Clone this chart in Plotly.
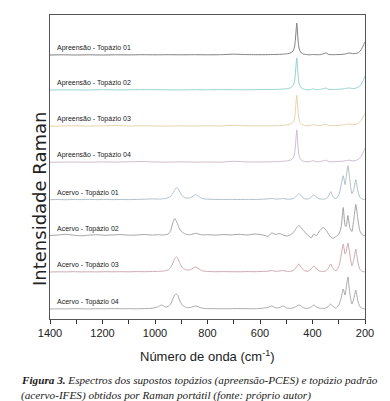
import plotly.graph_objects as go

# ---------------- data ----------------
# Raman shift grid (cm-1) used for the seized samples ("Apreensão")
WN_APREENSAO = [1400, 1350, 1300, 1250, 1200, 1150, 1100, 1050, 1000, 950,
                900, 850, 800, 750, 700, 650, 600, 560, 530, 510,
                495, 485, 478, 472, 468, 465, 462, 460, 458, 455,
                452, 448, 442, 435, 425, 410, 398, 385, 370, 355,
                348, 340, 325, 310, 295, 280, 268, 258, 248, 235,
                225, 218, 212, 207, 203, 200]

APREENSAO_01 = [0, 0.2, 0, 0.2, 0, 0.2, 0.1, 0.3, 0.2, 0.3,
                0.2, 0.3, 0.2, 0.3, 0.8, 0.4, 0.3, 0.4, 0.6, 0.9,
                1.3, 2.0, 3.0, 5.0, 9, 16, 26, 32, 27, 15,
                8, 4, 2, 1.0, 0.5, 0.2, 0.5, 0.3, 0.4, 1.5,
                2.2, 0.6, 0.3, 0.4, 0.5, 0.8, 1.6, 2.0, 1.4, 1.5,
                2.5, 4, 6.5, 9, 11.5, 13]
APREENSAO_02 = [0, 0.2, 0.1, 0, 0.3, 0.1, 0.2, 0.4, 0.3, 0.2,
                0.1, 0.3, 0.2, 0.4, 0.3, 0.2, 0.4, 0.5, 0.7, 1.0,
                1.4, 2.1, 3.2, 5.2, 9.5, 17, 27, 32, 27, 15,
                8, 4, 2, 1.0, 0.4, 0.3, 1.2, 0.4, 0.6, 1.6,
                2.0, 0.8, 0.5, 0.6, 0.8, 1.2, 1.8, 2.0, 1.5, 1.8,
                3, 4.5, 7, 9.5, 12, 14]
APREENSAO_03 = [0, 0.3, 0.5, 0.2, 0.4, 0.8, 0.3, 0.5, 0.3, 0.2,
                0.4, 0.3, 0.5, 0.3, 1.0, 0.5, 0.4, 0.5, 0.7, 1.0,
                1.5, 2.2, 3.2, 5, 9, 16, 26, 31, 26, 15,
                8, 4, 2.2, 1.2, 0.6, 0.8, 1.8, 0.7, 0.9, 1.8,
                2.2, 0.9, 0.6, 0.8, 1.0, 1.4, 2.0, 2.2, 1.6, 2,
                3.2, 4.8, 7, 9.5, 11.5, 13]
APREENSAO_04 = [0, 0.2, 0.3, 0.1, 0.4, 0.2, 0.5, 0.8, 0.3, 0.2,
                0.4, 0.2, 0.3, 0.2, 1.0, 0.4, 0.3, 0.5, 0.7, 1.1,
                1.5, 2.2, 3.3, 5.2, 9.5, 17, 27, 32.5, 27, 15,
                8, 4, 2, 1.1, 0.6, 0.6, 1.6, 0.6, 0.8, 1.7,
                2.1, 0.8, 0.5, 0.7, 0.9, 1.3, 1.9, 2.1, 1.5, 1.8,
                3.2, 4.8, 7.2, 9.8, 12, 14]

# Raman shift grid (cm-1) used for the reference topaz samples ("Acervo")
WN_ACERVO = [1400, 1370, 1340, 1310, 1280, 1250, 1220, 1190, 1160, 1130,
             1100, 1070, 1040, 1010, 990, 975, 960, 950, 940, 932,
             925, 918, 912, 905, 895, 880, 865, 855, 845, 835,
             820, 800, 770, 740, 710, 680, 650, 620, 590, 570,
             555, 540, 525, 512, 498, 485, 470, 460, 452, 444,
             432, 418, 405, 395, 385, 372, 360, 350, 340, 331,
             322, 310, 298, 290, 283, 276, 272, 265, 258, 250,
             243, 235, 228, 220, 212, 205, 200]

ACERVO_01 = [0, 0.2, 0, 0.2, 0.1, 0.3, 0.1, 0.2, 0.1, 0.2,
             0.1, 0.3, 0.5, 0.8, 0.6, 0.8, 1.2, 2.0, 3.5, 6.5,
             10, 12, 11, 7.5, 3.5, 1.5, 2.0, 3.5, 5, 3.5,
             1.2, 0.5, 0.3, 0.2, 0.3, 0.2, 0.3, 0.2, 0.5, 0.8,
             1.3, 0.6, 0.8, 1.2, 0.6, 0.5, 1.5, 4, 6, 4,
             1.2, 0.6, 2.5, 5, 2.5, 0.8, 0.6, 0.8, 3, 8,
             3, 1.0, 6, 16, 24, 15, 22, 34, 20, 6,
             10, 20, 10, 2.5, 0.8, 0.3, 0]
ACERVO_02 = [0, 0.5, 1.2, 0.3, -0.3, 0.4, 0.8, 0.2, 0.6, 0.9,
             0.3, 0.5, 1.0, 0.4, 0.8, 0.5, 0.8, 1.5, 5, 13,
             17, 14, 10, 6, 3, 1.2, 0.8, 1.5, 2.2, 1.5,
             0.6, 0.8, 0.4, 0.9, 0.6, 1.2, 0.5, 1.5, 0.6, -0.8,
             2.5, 1.0, 2.0, 0.5, -0.5, 0.5, 4, 8, 10, 8,
             4, 0.5, -2.5, 1.5, 0, 5, 8, 6, 2, -1.5,
             -2.8, -1, 2, 10, 28, 10, 9, 20, 8, 4,
             15, 31, 18, 5, 1, 0, 0]
ACERVO_03 = [0, 0.2, 0.1, 0.3, 0.1, 0.2, 0.1, 0.3, 0.2, 0.3,
             0.2, 0.4, 0.3, 0.5, 0.6, 0.8, 1.2, 2.2, 4.5, 9,
             13.5, 15, 13, 8.5, 4, 2, 2.2, 4, 5, 3.5,
             1.2, 0.5, 0.3, 0.4, 0.3, 0.2, 0.4, 0.3, 0.6, 0.8,
             1.5, 0.7, 1.0, 1.5, 0.7, 0.6, 2, 5.5, 8, 5,
             1.5, 0.7, 3, 6, 3, 0.8, 0.6, 1.0, 3.5, 8,
             3.5, 1.2, 7, 18, 28, 18, 20, 29, 18, 6,
             12, 23, 11, 3, 0.8, 0.3, 0]
ACERVO_04 = [0, 0.2, 0.1, 0.3, 0.2, 0.1, 0.3, 0.2, 0.4, 0.2,
             0.3, 0.2, 0.4, 0.8, 2.0, 4, 2.0, 2.5, 5, 10,
             14, 15, 13, 8, 3.5, 1.5, 1.5, 2.5, 3, 2.2,
             0.8, 0.4, 0.3, 0.2, 0.3, 0.4, 0.3, 0.2, 0.8, 1.5,
             3, 1.2, 1.5, 3, 1.0, 0.6, 1.5, 3, 4, 3,
             1.0, 0.6, 2, 4, 2, 0.7, 0.6, 1.0, 2.5, 5,
             2.5, 1.0, 5, 12, 20, 14, 20, 32, 16, 5,
             10, 19, 9, 2.5, 0.8, 0.3, 0]

SERIES_NAMES = ["Apreensão - Topázio 01", "Apreensão - Topázio 02",
                "Apreensão - Topázio 03", "Apreensão - Topázio 04",
                "Acervo - Topázio 01", "Acervo - Topázio 02",
                "Acervo - Topázio 03", "Acervo - Topázio 04"]

X_TICK_VALUES = [1400, 1200, 1000, 800, 600, 400, 200]
X_TICK_LABELS = ["1400", "1200", "1000", "800", "600", "400", "200"]

# ---------------- layout / style ----------------
STACK_OFFSETS = [264, 229, 192.7, 156.7, 119.3, 83.5, 47, 10]
LINE_COLORS = ["#707070", "#8ccccc", "#e3cca0", "#c8b2c8",
               "#a6b9c2", "#9a9a9a", "#c79ea6", "#a2a2a2"]

wn_sets = [WN_APREENSAO] * 4 + [WN_ACERVO] * 4
spectra = [APREENSAO_01, APREENSAO_02, APREENSAO_03, APREENSAO_04,
           ACERVO_01, ACERVO_02, ACERVO_03, ACERVO_04]
for w, s in zip(wn_sets, spectra):
    assert len(w) == len(s)

fig = go.Figure()
for name, w, s, off, col in zip(SERIES_NAMES, wn_sets, spectra, STACK_OFFSETS, LINE_COLORS):
    fig.add_trace(go.Scatter(
        x=w, y=[v + off for v in s], mode="lines", name=name,
        line=dict(color=col, width=0.9, shape="spline", smoothing=0.5),
        showlegend=False, hoverinfo="skip"))
    fig.add_annotation(x=1381, y=off + 7, xref="x", yref="y", text=name,
                       showarrow=False, xanchor="left", yanchor="middle",
                       font=dict(family="Liberation Sans Narrow, Arial Narrow, Liberation Sans",
                                 size=7, color="#222"))

PLOT_L, PLOT_T, PLOT_W, PLOT_H = 42, 7, 315, 304

def py(pix):
    return (PLOT_T + PLOT_H - pix) / PLOT_H

def px(pix):
    return (pix - PLOT_L) / PLOT_W

fig.add_annotation(xref="paper", yref="paper", x=0.5, y=py(348),
                   text="Número de onda (cm<sup>-1</sup>)", showarrow=False,
                   xanchor="center", yanchor="middle",
                   font=dict(family="Liberation Sans", size=13, color="#222"))
fig.add_annotation(xref="paper", yref="paper", x=px(31), y=py(191),
                   text="Intensidade Raman", showarrow=False, textangle=-90,
                   xanchor="center", yanchor="middle",
                   font=dict(family="DejaVu Sans", size=18, color="#222"))
fig.add_annotation(xref="paper", yref="paper", x=px(11), y=py(372),
                   text="<b><i>Figura 3.</i></b><i> Espectros dos supostos topázios (apreensão-PCES) e topázio padrão</i>",
                   showarrow=False, xanchor="left", yanchor="middle",
                   font=dict(family="Liberation Serif", size=11.2, color="#1a1a1a"))
fig.add_annotation(xref="paper", yref="paper", x=px(11), y=py(387),
                   text="<i>(acervo-IFES) obtidos por Raman portátil (fonte: próprio autor)</i>",
                   showarrow=False, xanchor="left", yanchor="middle",
                   font=dict(family="Liberation Serif", size=11.2, color="#1a1a1a"))

fig.update_layout(
    width=390, height=401,
    margin=dict(l=PLOT_L, r=390 - PLOT_L - PLOT_W, t=PLOT_T, b=401 - PLOT_T - PLOT_H, pad=0),
    paper_bgcolor="white", plot_bgcolor="white",
    xaxis=dict(range=[1400, 200], tickvals=X_TICK_VALUES, ticktext=X_TICK_LABELS,
               ticks="outside", ticklen=4, tickwidth=1, tickcolor="#333",
               minor=dict(tickvals=[1300, 1100, 900, 700, 500, 300], ticks="outside",
                          ticklen=4, tickwidth=1, tickcolor="#333", showgrid=False),
               showline=True, linecolor="#555", linewidth=1.2, mirror=True,
               showgrid=False, zeroline=False,
               tickfont=dict(family="Liberation Sans Narrow, Arial Narrow, Liberation Sans",
                             size=11, color="#222")),
    yaxis=dict(range=[0, 304], showticklabels=False, ticks="",
               showline=True, linecolor="#555", linewidth=1.2, mirror=True,
               showgrid=False, zeroline=False),
)

fig.write_html("out.html")
